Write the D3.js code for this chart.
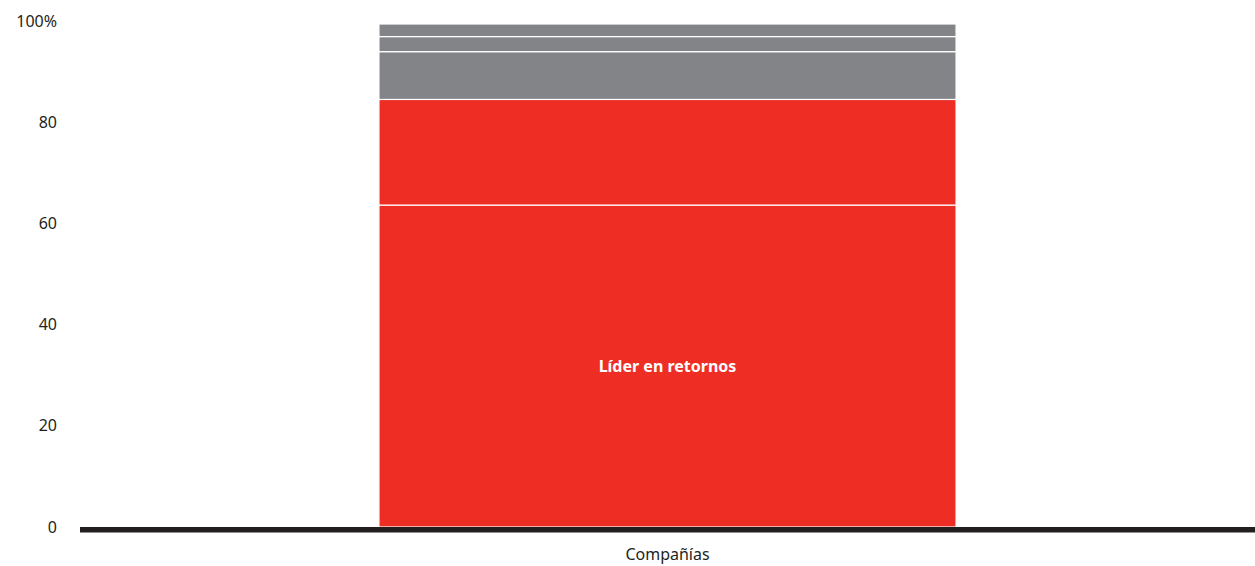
<!DOCTYPE html>
<html>
<head>
<meta charset="utf-8">
<script src="https://cdn.jsdelivr.net/npm/d3@7"></script>
<style>
  body { margin: 0; background: #fff; }
  svg text { font-family: "Noto Sans", "Open Sans", sans-serif; }
</style>
</head>
<body>
<svg class="chart" width="1255" height="566"></svg>
<script>
// data
var categories = ["Compañías"];
var segmentKeys = ["lider", "rojo2", "gris1", "gris2", "gris3"];
var segmentValues = [64, 21, 9.5, 3, 2.5];
var segmentColors = ["#ee2e24", "#ee2e24", "#838488", "#838488", "#838488"];
var segmentLabels = ["Líder en retornos", "", "", "", ""];
var yTicks = [0, 20, 40, 60, 80, 100];

var svg = d3.select(".chart");
var margin = { top: 24, right: 0, bottom: 39, left: 80 };
var width = +svg.attr("width") - margin.left - margin.right;
var height = +svg.attr("height") - margin.top - margin.bottom;

var row = { category: categories[0] };
segmentKeys.forEach(function (k, i) { row[k] = segmentValues[i]; });

var stack = d3.stack().keys(segmentKeys);
var series = stack([row]);

var x = d3.scaleBand()
  .domain(categories)
  .range([0, width])
  .paddingInner(0)
  .paddingOuter(0.518);

var y = d3.scaleLinear().domain([0, 100]).range([height, 0]);

var g = svg.append("g")
  .attr("transform", "translate(" + margin.left + "," + margin.top + ")");

// y axis, labels only
var yAxis = d3.axisLeft(y)
  .tickValues(yTicks)
  .tickSize(0)
  .tickPadding(23)
  .tickFormat(function (d) { return d === 100 ? "100%" : d; });

g.append("g")
  .attr("class", "axis axis--y")
  .call(yAxis)
  .call(function (s) { s.select(".domain").remove(); })
  .selectAll("text")
  .attr("dy", function (d) { return (0.32 - (d / 100) * 0.18) + "em"; })
  .attr("fill", "#231f20")
  .style("font-size", "16px");

// stacked segments
var segs = g.selectAll(".seg")
  .data(series)
  .enter()
  .append("g")
  .attr("class", "seg")
  .attr("fill", function (d, i) { return segmentColors[i]; });

segs.selectAll("rect")
  .data(function (d) { return d; })
  .enter()
  .append("rect")
  .attr("x", function (d) { return x(d.data.category); })
  .attr("width", x.bandwidth())
  .attr("y", function (d) { return y(d[1]); })
  .attr("height", function (d) { return y(d[0]) - y(d[1]); })
  .attr("stroke", "#fff")
  .attr("stroke-width", 1.2);

// segment labels
segs.each(function (s, i) {
  if (!segmentLabels[i]) return;
  var d = s[0];
  d3.select(this).append("text")
    .attr("x", x(d.data.category) + x.bandwidth() / 2)
    .attr("y", y((d[0] + d[1]) / 2))
    .attr("dy", "0.35em")
    .attr("text-anchor", "middle")
    .attr("fill", "#fff")
    .style("font-size", "16px")
    .style("font-weight", "bold")
    .text(segmentLabels[i]);
});

// baseline
g.append("line")
  .attr("x1", 0)
  .attr("x2", width)
  .attr("y1", y(0) + 2.8)
  .attr("y2", y(0) + 2.8)
  .attr("stroke", "#231f20")
  .attr("stroke-width", 5.5);

// x axis label
g.append("g")
  .attr("class", "axis axis--x")
  .attr("transform", "translate(0," + (height + 5) + ")")
  .call(d3.axisBottom(x).tickSize(0).tickPadding(17))
  .call(function (s) { s.select(".domain").remove(); })
  .selectAll("text")
  .attr("fill", "#231f20")
  .style("font-size", "16px");
</script>
</body>
</html>
